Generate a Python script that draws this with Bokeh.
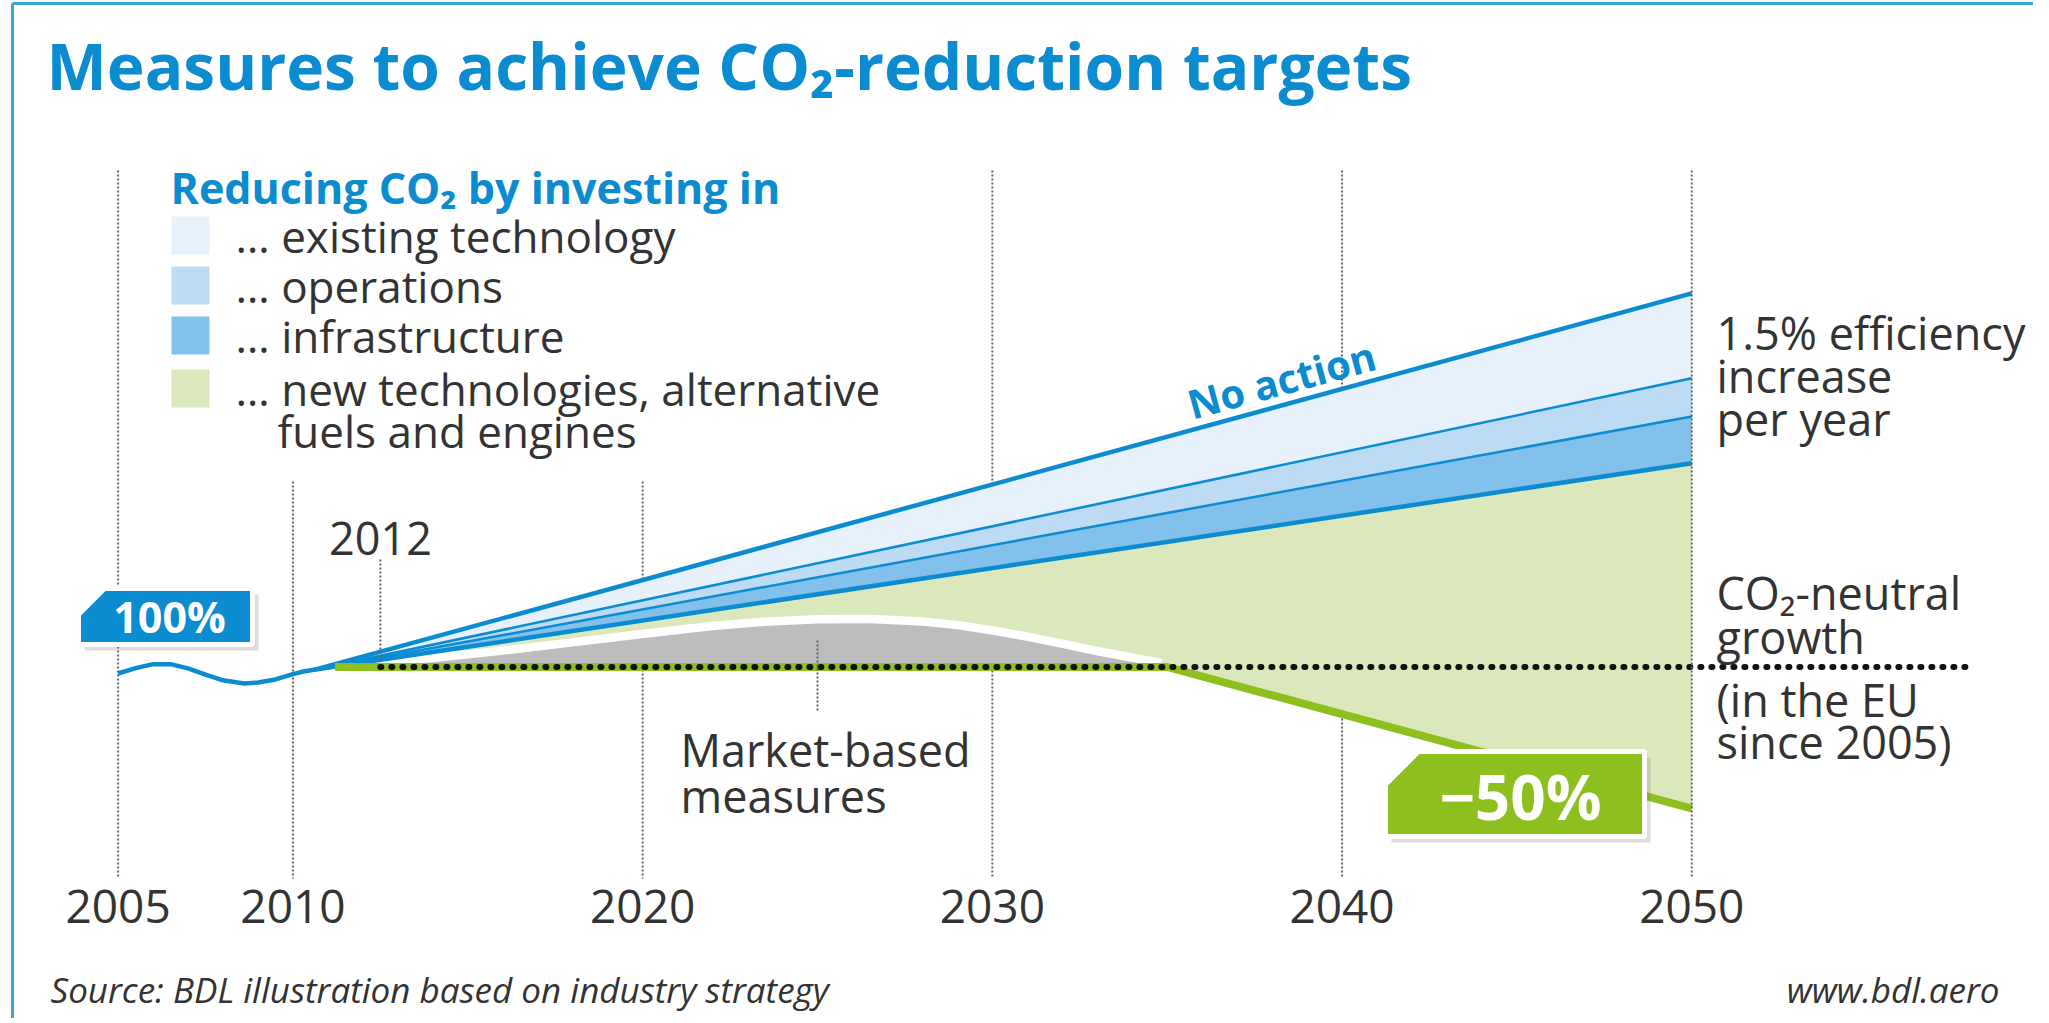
from bokeh.plotting import figure
from bokeh.models import Label, Range1d
from bokeh.embed import file_html
from bokeh.resources import INLINE
from bokeh.core.properties import value

# ---------------- data ----------------
axis_years = [2005, 2010, 2020, 2030, 2040, 2050]
axis_labels = ["2005", "2010", "2020", "2030", "2040", "2050"]

history_years = [2005, 2005.5, 2006, 2006.5, 2007, 2007.5, 2008, 2008.6, 2009, 2009.5, 2010, 2010.3, 2010.6]
history_values = [97.7, 99.6, 101.0, 101.0, 99.5, 97.3, 95.3, 94.2, 94.5, 95.6, 97.5, 98.4, 99.0]

fan_years = [2010.6, 2050]
no_action = [99, 232]
existing_tech_low = [99, 202]
operations_low = [99, 188.5]
infrastructure_low = [99, 172]

target_years = [2011.2, 2035, 2050]
target_values = [100, 100, 50]

market_years = [2012.3, 2014, 2016, 2018, 2020, 2022, 2023.5, 2025, 2026.5, 2028, 2029,
                2030, 2031, 2032, 2033, 2034, 2034.8]
market_values = [100, 101.7, 104.3, 107.2, 110.2, 113.0, 114.5, 115.4, 115.5, 114.6, 113.3,
                 111.4, 109.2, 106.7, 104.1, 101.8, 100]

neutral_years = [2012.5, 2058]
neutral_values = [100, 100]

legend_labels = ["\u2026 existing technology", "\u2026 operations", "\u2026 infrastructure",
                 "\u2026 new technologies, alternative"]
legend_colors = ["#e6f1fb", "#bddcf4", "#82c1eb", "#dbe8bc"]

# ---------------- layout helpers (page pixels -> data) ----------------
W, H = 2033, 1018
PX_2005, PX_YEAR = 117.6, 34.97
PY_BASE, PY_PCT = 666.5, 2.83
x0 = 2005 - PX_2005 / PX_YEAR
x1 = x0 + W / PX_YEAR
y1 = 100 + PY_BASE / PY_PCT
y0 = y1 - H / PY_PCT


def dx(px):
    return 2005 + (px - PX_2005) / PX_YEAR


def dy(py):
    return 100 + (PY_BASE - py) / PY_PCT


FONT_NAME = "Open Sans"
FONT = value(FONT_NAME)
BLUE = "#0b8bd0"
GREEN = "#8dbf1e"
TXT = "#333333"

p = figure(width=W, height=H, output_backend="svg", toolbar_location=None,
           x_range=Range1d(x0, x1), y_range=Range1d(y0, y1),
           x_axis_location=None, y_axis_location=None, min_border=0)
p.grid.visible = False
p.outline_line_color = None
p.background_fill_color = "white"
p.border_fill_color = "white"

# frame
p.line([dx(12), x1], [dy(3), dy(3)], line_color="#3aa7dc", line_width=3)
p.line([dx(12), dx(12)], [dy(3), y0], line_color="#3aa7dc", line_width=3)

# guides under the fills
GUIDE = dict(line_color="#666666", line_width=2, line_dash="2 2")
for yr, top, bot in [(2005, 170, 878), (2010, 481, 878), (2020, 481, 878),
                     (2030, 170, 878), (2040, 170, 878)]:
    p.line([yr, yr], [dy(top), dy(bot)], **GUIDE)

# stacked reduction bands
p.varea(x=fan_years, y1=existing_tech_low, y2=no_action, fill_color=legend_colors[0])
p.varea(x=fan_years, y1=operations_low, y2=existing_tech_low, fill_color=legend_colors[1])
p.varea(x=fan_years, y1=infrastructure_low, y2=operations_low, fill_color=legend_colors[2])
p.patch(fan_years + target_years[::-1], infrastructure_low + target_values[::-1],
        fill_color=legend_colors[3], line_color=None)

# market-based measures hump
p.line(market_years, market_values, line_color="white", line_width=17, line_join="round")
p.varea(x=market_years, y1=[100] * len(market_years), y2=market_values, fill_color="#bdbdbd")

# fan lines
p.line(fan_years, no_action, line_color=BLUE, line_width=4.5)
p.line(fan_years, existing_tech_low, line_color=BLUE, line_width=2.5)
p.line(fan_years, operations_low, line_color=BLUE, line_width=2.5)
p.line(fan_years, infrastructure_low, line_color=BLUE, line_width=4.5)
p.line(history_years, history_values, line_color=BLUE, line_width=4.5, line_join="round")

# target line and neutral growth dots
p.line(target_years, target_values, line_color=GREEN, line_width=8)
p.line(neutral_years, neutral_values, line_color="#111111", line_width=6,
       line_dash="1 10", line_cap="round")

# guides above the fills
for yr, top, bot in [(2050, 170, 878), (2025, 640, 712), (2012.5, 559, 662)]:
    p.line([yr, yr], [dy(top), dy(bot)], **GUIDE)


# labelled boxes with cut corner
def box(left, top, right, bottom, cut, color):
    xs = [left, left + cut, right, right, left]
    ys = [top + cut, top, top, bottom, bottom]
    p.patch([dx(x + 6) for x in xs], [dy(y + 6) for y in ys], fill_color="#777777",
            fill_alpha=0.25, line_color=None)
    p.patch([dx(x) for x in xs], [dy(y) for y in ys], fill_color=color,
            line_color="white", line_width=5)


box(78, 588, 252, 644, 26, BLUE)
box(1385, 751, 1644, 836, 33, GREEN)


def lab(x, y, t, size="45px", color=TXT, style="normal", align="left", angle=0.0,
        baseline="middle"):
    p.add_layout(Label(x=dx(x), y=dy(y), text=t, text_font=FONT_NAME, text_font_size=size,
                       text_color=color, text_font_style=style, text_align=align,
                       text_baseline=baseline, angle=angle))


lab(169, 616, "100%", size="43px", color="white", style="bold", align="center")
lab(1520, 795, "\u221250%", size="62px", color="white", style="bold", align="center")

# axis year labels
p.text(x=axis_years, y=[dy(906)] * len(axis_years), text=axis_labels, text_font=FONT,
       text_font_size="46px", text_color=TXT, text_align="center", text_baseline="middle")

# title
lab(46, 65, "Measures to achieve CO\u2082-reduction targets", size="64px", color=BLUE,
    style="bold")

# legend
lab(170, 187, "Reducing CO\u2082 by investing in", size="43px", color=BLUE, style="bold")
row_y = [235, 285, 335, 388]
p.scatter(x=[dx(190)] * 4, y=[dy(v) for v in row_y], marker="square", size=38,
          fill_color=legend_colors, line_color=None)
for t, yy in zip(legend_labels, row_y):
    lab(235, yy, t, size="44px")
lab(277, 430, "fuels and engines", size="44px")

# annotations
lab(1281, 379, "No action", size="40px", color=BLUE, style="bold", align="center", angle=0.266)
lab(380, 538, "2012", align="center")
lab(680, 749, "Market-based")
lab(680, 795, "measures")
for t, yy in zip(["1.5% efficiency", "increase", "per year"], [332, 375, 418]):
    lab(1716, yy, t)
for t, yy in zip(["CO\u2082-neutral", "growth", "(in the EU", "since 2005)"], [592, 636, 699, 741]):
    lab(1716, yy, t)

# footer
lab(50, 989, "Source: BDL illustration based on industry strategy", size="35px",
    style="italic")
lab(1999, 989, "www.bdl.aero", size="35px", style="italic", align="right")

open("out.html", "w").write(file_html(p, INLINE))
